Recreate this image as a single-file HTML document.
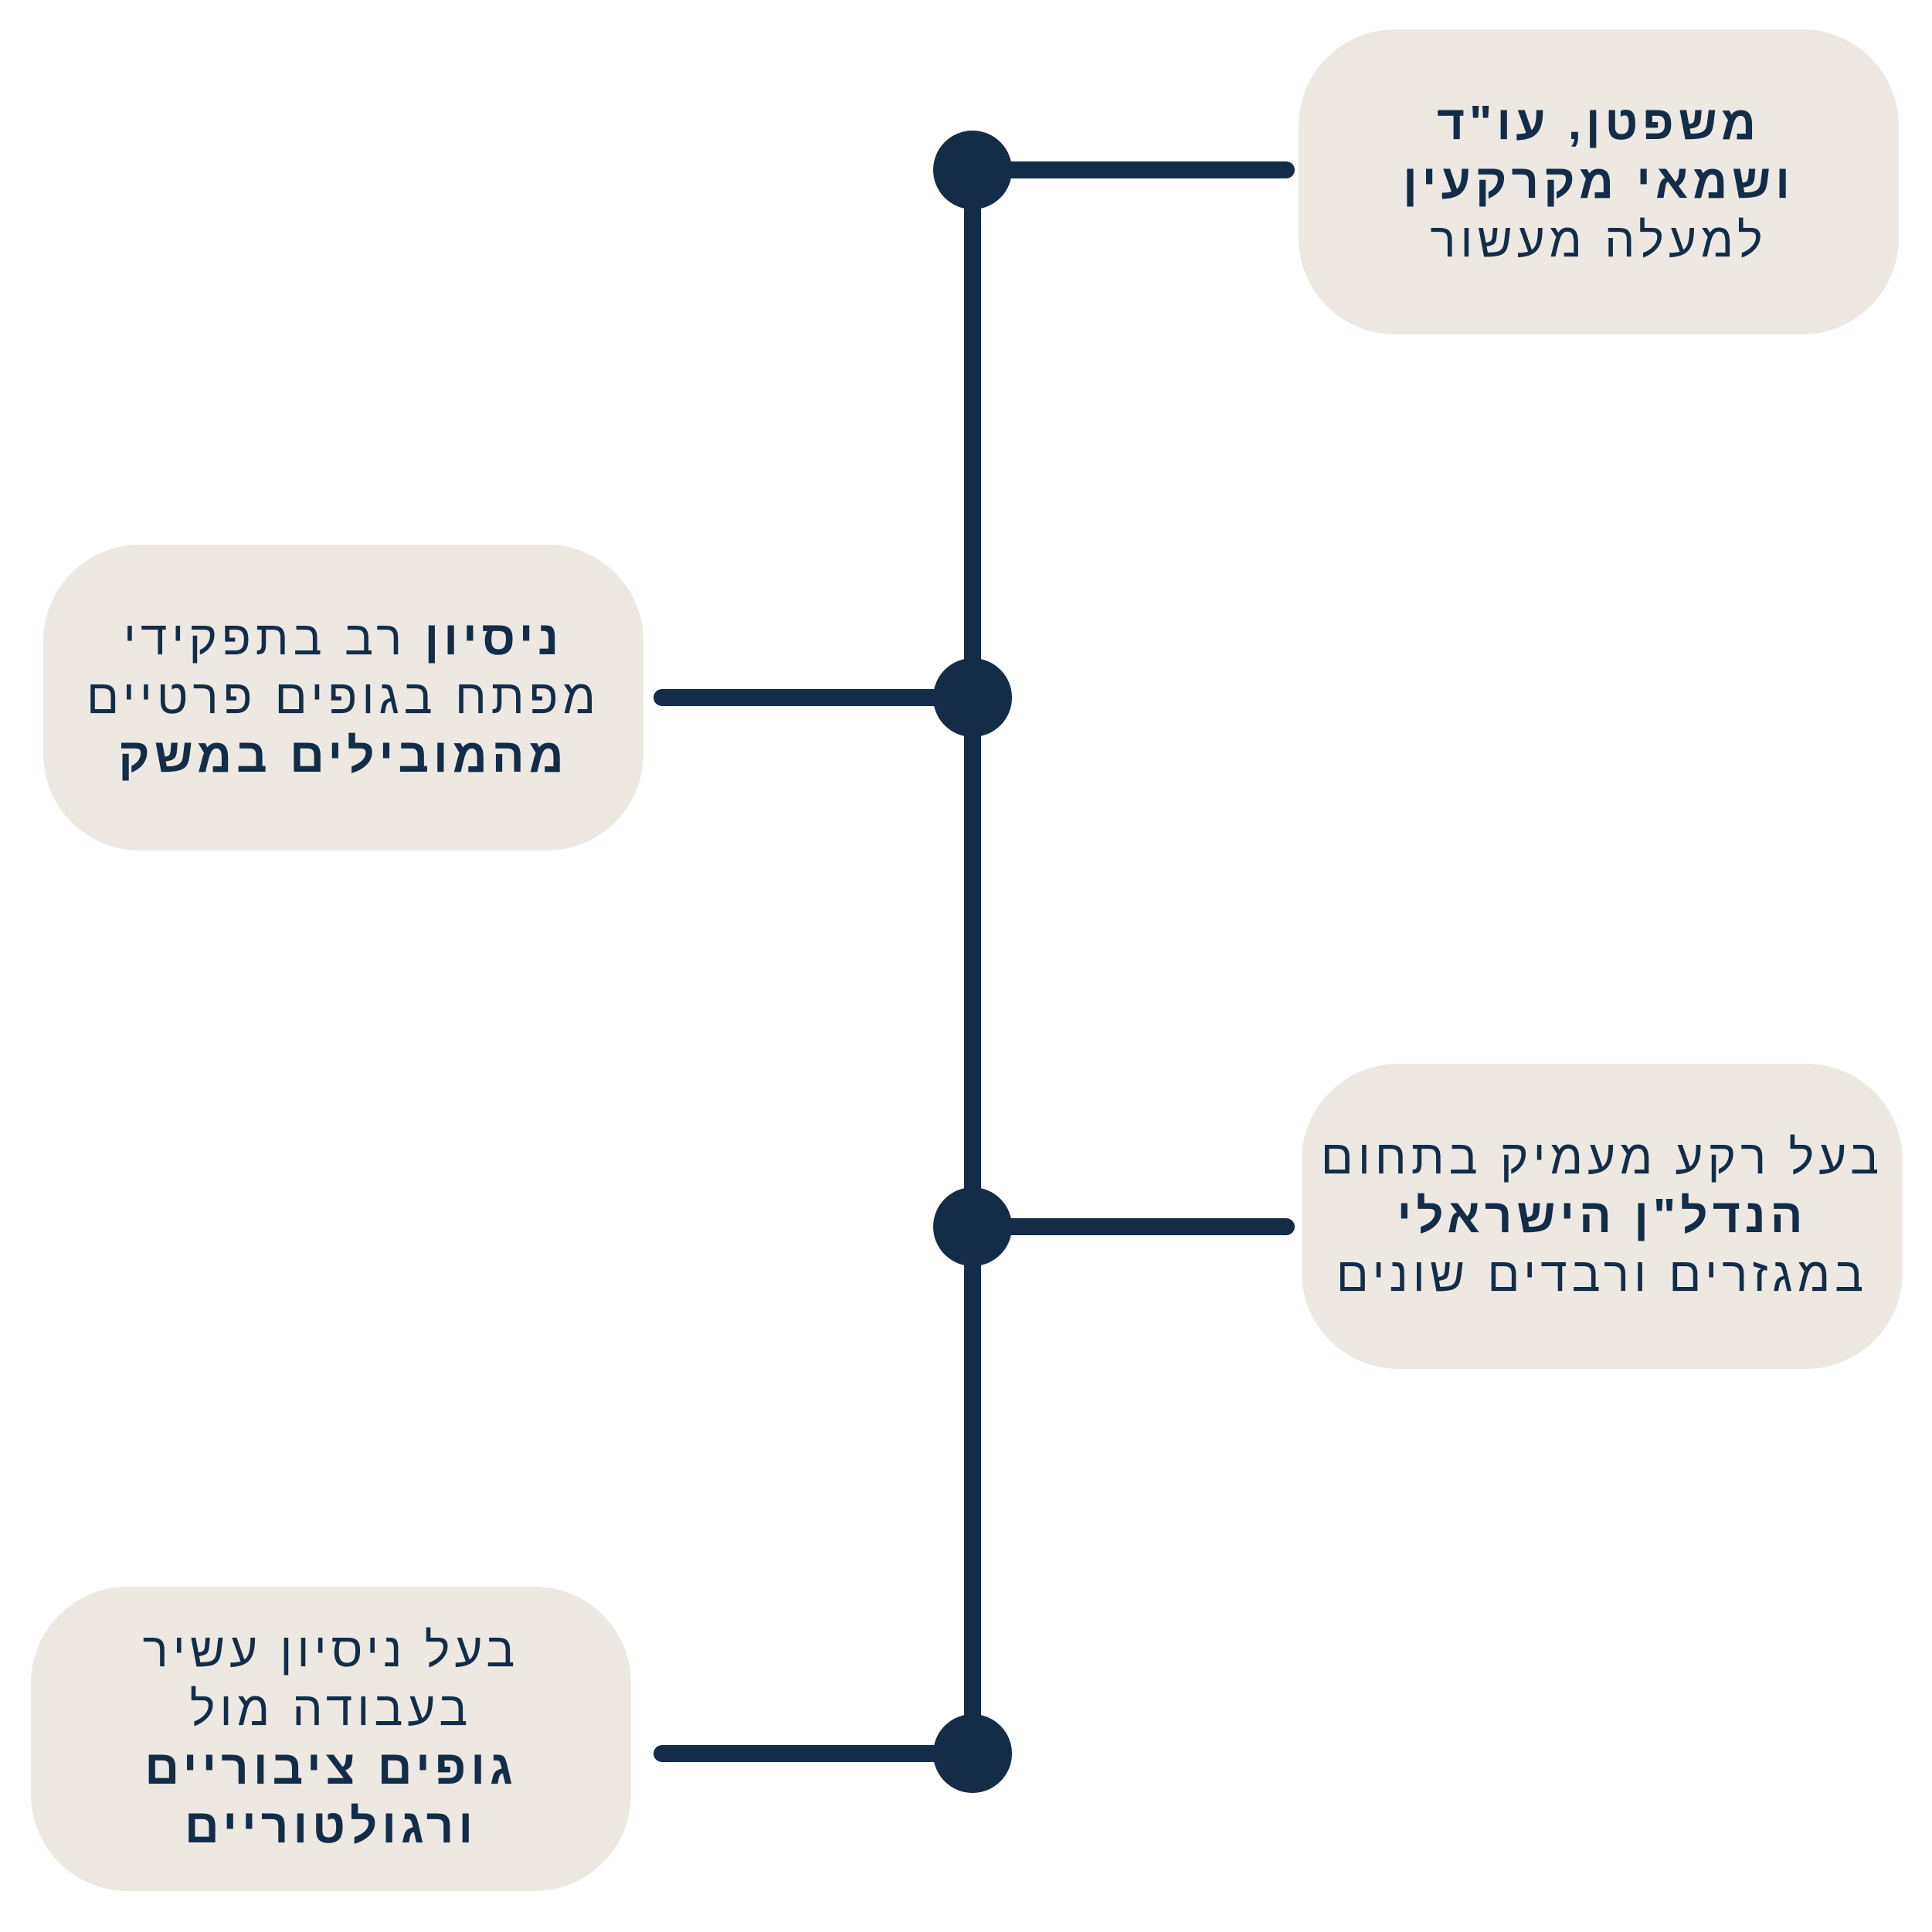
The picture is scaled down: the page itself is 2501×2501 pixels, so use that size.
<!DOCTYPE html>
<html><head><meta charset="utf-8"><style>
body{margin:0;width:2501px;height:2501px;background:#fff;position:relative;overflow:hidden;font-family:"Liberation Sans","Noto Sans CJK SC",sans-serif;color:#132c48}
.box{position:absolute;background:#ede8e2;border-radius:125px;display:flex;align-items:center;justify-content:center;text-align:center;direction:rtl;font-size:62px;line-height:76px;letter-spacing:6px}
b{font-weight:bold}
</style></head><body>
<svg width="2501" height="2501" style="position:absolute;left:0;top:0">
<g stroke="#132c48" stroke-width="22" stroke-linecap="round" fill="#132c48">
<line x1="1259" y1="220" x2="1259" y2="2270"/>
<line x1="1259" y1="220" x2="1665" y2="220"/>
<line x1="857" y1="903" x2="1259" y2="903"/>
<line x1="1259" y1="1588" x2="1665" y2="1588"/>
<line x1="857" y1="2270" x2="1259" y2="2270"/>
<circle cx="1259" cy="220" r="51" stroke="none"/>
<circle cx="1259" cy="903" r="51" stroke="none"/>
<circle cx="1259" cy="1588" r="51" stroke="none"/>
<circle cx="1259" cy="2270" r="51" stroke="none"/>
</g></svg>
<div class="box" style="left:1681px;top:38px;width:777px;height:395px"><div><b>משפטן, עו"ד</b><br><b>ושמאי מקרקעין</b><br>למעלה מעשור</div></div>
<div class="box" style="left:56px;top:705px;width:777px;height:396px"><div><b>ניסיון</b> רב בתפקידי<br>מפתח בגופים פרטיים<br><b>מהמובילים במשק</b></div></div>
<div class="box" style="left:1685px;top:1377px;width:778px;height:395px"><div>בעל רקע מעמיק בתחום<br><b>הנדל"ן הישראלי</b><br>במגזרים ורבדים שונים</div></div>
<div class="box" style="left:40px;top:2054px;width:777px;height:394px"><div>בעל ניסיון עשיר<br>בעבודה מול<br><b>גופים ציבוריים</b><br><b>ורגולטוריים</b></div></div>
</body></html>
